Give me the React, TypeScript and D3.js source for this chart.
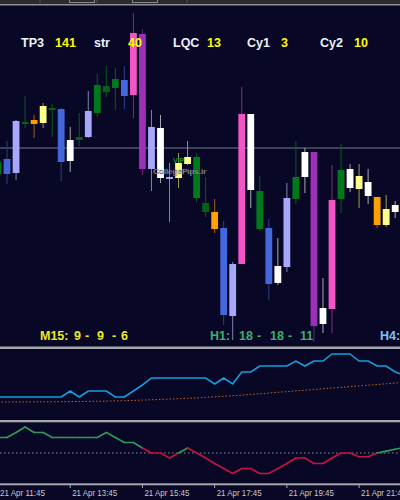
import React from "react";
import * as d3 from "d3";

const W = 400;
const H = 500;

// candle categories (indicator colouring)
const candleCat = [
  "green", "blue", "lav", "dkg", "orange", "yellow", "dkg", "blue", "white", "dkg",
  "lav", "green", "dkg", "green", "blue", "pink", "purple", "lav", "white", "lav",
  "yellow", "yellow", "green", "dkg", "orange", "blue", "lav", "pink", "white", "green",
  "blue", "white", "lav", "green", "white", "purple", "white", "pink", "green", "white",
  "yellow", "white", "orange", "yellow", "white",
];
const highs = [192, 209, 230, 254, 235, 247, 246, 242, 223, 237, 259, 276, 284, 282, 284, 337, 321, 240, 235, 187, 197, 209, 197, 173, 151, 129, 88, 263, 236, 174, 131, 112, 167, 209, 202, 198, 72, 185, 206, 186, 186, 181, 153, 155, 149];
const lows = [172, 166, 170, 222, 212, 222, 213, 169, 178, 204, 212, 233, 253, 240, 241, 232, 175, 159, 167, 128, 162, 185, 148, 133, 117, 25, 10, 86, 142, 119, 50, 65, 78, 146, 157, 8, 17, 17, 137, 158, 142, 146, 122, 123, 132];
const bodyHigh = [188, 191, 229, 228, 230, 244, 242, 241, 210, 213, 239, 265, 264, 271, 270, 317, 316, 223, 222, 173, 187, 193, 193, 147, 138, 122, 86, 236, 236, 159, 122, 84, 152, 173, 198, 198, 42, 150, 180, 181, 174, 168, 153, 141, 145];
const bodyLow = [176, 176, 177, 226, 226, 227, 240, 188, 189, 210, 213, 237, 258, 262, 254, 255, 181, 181, 172, 171, 172, 186, 152, 138, 121, 35, 34, 86, 160, 121, 66, 67, 83, 151, 173, 24, 26, 41, 151, 162, 161, 154, 125, 125, 138];
const priceLine = 202;

// lower panel 1: step line + slow dotted average
const oscBlue = [32.4, 32.4, 32.4, 32.4, 32.4, 32.4, 32.4, 32.4, 40.8, 32.4, 40.8, 40.8, 40.8, 32.4, 32.4, 40.8, 49.3, 59.2, 59.2, 59.2, 59.2, 59.2, 59.2, 59.2, 50.7, 59.2, 50.7, 67.6, 67.6, 76, 76, 76, 76, 83, 76, 83, 83, 93, 93, 93, 83, 83, 76, 76, 67.6, 63];
const oscAvg = [25.3, 25.3, 25.4, 25.4, 25.5, 25.6, 25.7, 25.8, 25.9, 26.0, 26.2, 26.4, 26.6, 26.9, 27.2, 27.6, 28.0, 28.5, 29.0, 29.5, 30.0, 30.5, 31.0, 31.8, 32.6, 33.4, 34.2, 35.0, 36.0, 37.0, 38.0, 39.0, 40.0, 41.0, 42.0, 43.0, 44.0, 45.0, 46.0, 47.0, 48.0, 49.0, 50.0, 51.0, 52.0, 53.0];

// lower panel 2: two-colour oscillator around level 50
const osc2 = [75, 75, 83, 92, 83, 83, 75, 75, 75, 75, 75, 75, 83, 75, 67, 67, 58, 50, 50, 42, 50, 58, 50, 42, 33, 25, 17, 25, 25, 17, 17, 25, 33, 42, 42, 33, 33, 42, 50, 50, 44, 44, 50, 53, 56, 59];
const osc2Level = 50;

const tickIndex = [0, 8, 16, 24, 32, 40];
const tickLabels = ["21 Apr 11:45", "21 Apr 13:45", "21 Apr 15:45", "21 Apr 17:45", "21 Apr 19:45", "21 Apr 21:45"];

const topLabels = ["TP3", "141", "str", "40", "LQC", "13", "Cy1", "3", "Cy2", "10"];
const topLabelX = [21, 55, 94, 128, 173, 207, 247, 281, 320, 354];

const m15Tokens = ["M15:", "9", "-", "9", "-", "6"];
const m15X = [40, 74, 85, 97, 112, 121];
const h1Tokens = ["H1:", "18", "-", "18", "-", "11"];
const h1X = [210, 239, 257, 270, 288, 300];

const BG = "#080826";

const fills: Record<string, string> = {
  green: "#00781c",
  dkg: "#006418",
  blue: "#4467dc",
  lav: "#a7a7fc",
  orange: "#ffa000",
  yellow: "#ffff88",
  white: "#ffffff",
  pink: "#f255c6",
  purple: "#9c30b6",
};
const wicks: Record<string, string> = {
  green: "#0b5a16",
  dkg: "#0b5a16",
  blue: "#2c3f8a",
  lav: "#8080b8",
  orange: "#9a6018",
  yellow: "#9a9a50",
  white: "#a8a8b0",
  pink: "#8a2c72",
  purple: "#6a2280",
};

export default function App() {
  const x = d3.scaleLinear().domain([0, 44]).range([-2.0, 395.2]);
  const yMain = d3.scaleLinear().domain([0, 350]).range([350, 0]);
  const yP2 = d3.scaleLinear().domain([0, 100]).range([420, 349]);
  const yP3 = d3.scaleLinear().domain([0, 100]).range([484, 422]);
  const bw = 6.8;

  const blueLine = d3.line<number>().x((_, i) => x(i)).y((d) => yP2(d))(oscBlue) || "";
  const avgLine = d3.line<number>().x((_, i) => x(i)).y((d) => yP2(d))(oscAvg) || "";

  return (
    <svg width={W} height={H} style={{ position: "fixed", left: 0, top: 0, background: BG }}
      fontFamily="'Liberation Sans', Arial, sans-serif">
      <rect x={0} y={0} width={W} height={H} fill={BG} />
      {/* top toolbar strip */}
      <rect x={0} y={0} width={W} height={4} fill="#2b2b2d" />
      {[40, 97, 187].map((v) => (
        <line key={v} x1={v} x2={v} y1={0} y2={3} stroke="#555" />
      ))}
      <rect x={69.5} y={-1} width={25} height={3.5} fill="none" stroke="#8a8a8a" />
      <rect x={132.5} y={-1} width={25} height={3.5} fill="none" stroke="#8a8a8a" />
      <line x1={0} x2={W} y1={4.8} y2={4.8} stroke="#8e8e96" strokeWidth={1.4} />

      {/* horizontal price line */}
      <line x1={0} x2={W} y1={yMain(priceLine)} y2={yMain(priceLine)} stroke="#767688" strokeWidth={1} />

      {/* candles */}
      {candleCat.map((c, i) => {
        const cx = x(i);
        const top = yMain(bodyHigh[i]);
        const bot = yMain(bodyLow[i]);
        return (
          <g key={i}>
            <line x1={cx} x2={cx} y1={yMain(highs[i])} y2={yMain(lows[i])} stroke={wicks[c]} strokeWidth={1} />
            <rect x={cx - bw / 2} y={top} width={bw} height={Math.max(2, bot - top)} fill={fills[c]} />
          </g>
        );
      })}

      {/* watermark */}
      <text x={173} y={163} fontSize={7} fontWeight="bold" fill="#1f8a2c">VIP</text>
      <text x={153} y={174} fontSize={8} fontWeight="bold" fill="#d4d4d8" fillOpacity={0.8}
        stroke="#303040" strokeWidth={0.3}>CollegePips.ir</text>

      {/* top labels */}
      {topLabels.map((t, i) => (
        <text key={t + i} x={topLabelX[i]} y={46.5} fontSize={12.5} fontWeight="bold"
          fill={i % 2 === 0 ? "#eef2fa" : "#ffff00"}>{t}</text>
      ))}

      {/* bottom labels of main panel */}
      {m15Tokens.map((t, i) => (
        <text key={"m" + i} x={m15X[i]} y={339.5} fontSize={12.5} fontWeight="bold" fill="#eaea28">{t}</text>
      ))}
      {h1Tokens.map((t, i) => (
        <text key={"h" + i} x={h1X[i]} y={339.5} fontSize={12.5} fontWeight="bold" fill="#3cae6e">{t}</text>
      ))}
      <text x={380} y={339.5} fontSize={12.5} fontWeight="bold" fill="#7cc4f4">H4:</text>

      {/* separators */}
      <rect x={0} y={346.5} width={W} height={2.5} fill="#a6a6ae" />
      <rect x={0} y={420} width={W} height={2.3} fill="#a6a6ae" />
      <rect x={0} y={483.3} width={W} height={2} fill="#a6a6ae" />

      {/* panel 2 */}
      <path d={avgLine} fill="none" stroke="#c8641e" strokeWidth={1} strokeDasharray="1.5 2" />
      <path d={blueLine} fill="none" stroke="#169fdc" strokeWidth={1.6} />

      {/* panel 3 */}
      <line x1={0} x2={W} y1={yP3(osc2Level)} y2={yP3(osc2Level)} stroke="#8a8a9c" strokeWidth={1} strokeDasharray="1.5 2.5" />
      {osc2.slice(1).map((v, k) => (
        <line key={"o" + k} x1={x(k)} y1={yP3(osc2[k])} x2={x(k + 1)} y2={yP3(v)}
          stroke={v > osc2Level ? "#2f9a5c" : "#c8123e"} strokeWidth={1.6} strokeLinecap="round" />
      ))}

      {/* x axis */}
      {tickIndex.map((ti, k) => (
        <g key={"t" + ti}>
          <line x1={x(ti)} x2={x(ti)} y1={485} y2={488} stroke="#a6a6ae" />
          <text x={x(ti) + 2} y={495.5} fontSize={9.5} fill="#c8c8cc" textLength={45} lengthAdjust="spacingAndGlyphs">
            {tickLabels[k]}
          </text>
        </g>
      ))}
    </svg>
  );
}
